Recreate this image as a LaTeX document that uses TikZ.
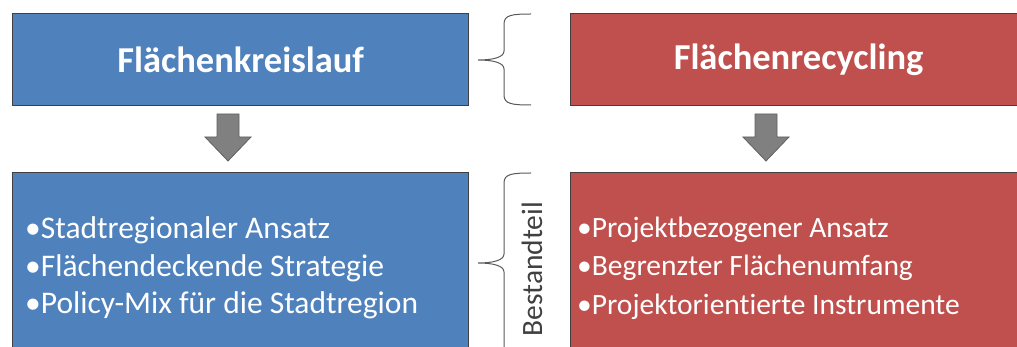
\documentclass[tikz,border=0pt]{standalone}
\usepackage{fontspec}
\setmainfont[Ligatures=NoCommon]{Carlito}
\definecolor{kblue}{HTML}{4F81BD}
\definecolor{kred}{HTML}{C0504D}
\definecolor{kedge}{HTML}{404040}
\definecolor{karrow}{HTML}{808080}
\definecolor{karrowedge}{HTML}{606060}
\definecolor{kbrace}{HTML}{595959}
\tikzset{
  box/.style={draw=kedge, line width=1.2pt, minimum width=456pt, anchor=north west, inner sep=0pt},
  titletext/.style={text=white, font=\fontsize{36.5}{40}\selectfont\bfseries},
  listtext/.style={text=white, align=left, anchor=west, inner sep=0pt},
  bigarrow/.style={fill=karrow, draw=karrowedge, line width=0.8pt},
  bracestyle/.style={draw=kbrace, line width=1pt},
}
\begin{document}
\begin{tikzpicture}[x=1pt,y=-1pt]
\useasboundingbox (0,0) rectangle (1017,347);
\clip (0,0) rectangle (1017,347);
% top boxes
\node[box, fill=kblue, minimum height=92pt, titletext] (tl) at (12,13) {Flächenkreislauf};
\node[box, fill=kred, minimum height=92pt, titletext] (tr) at (570,13) {Flächenrecycling};
% bottom boxes
\node[box, fill=kblue, minimum height=190pt] (bl) at (12,172) {};
\node[box, fill=kred, minimum height=190pt] (br) at (570,172) {};
\node[listtext, font=\fontsize{31.5}{37.5}\selectfont] (bltxt) at (25,268) {•Stadtregionaler Ansatz\\•Flächendeckende Strategie\\•Policy-Mix für die Stadtregion};
\node[listtext, font=\fontsize{29.5}{38.5}\selectfont] (brtxt) at (577,268) {•Projektbezogener Ansatz\\•Begrenzter Flächenumfang\\•Projektorientierte Instrumente};
% arrows
\draw[bigarrow] (217,114) -- (239,114) -- (239,137) -- (251,137) -- (228,161) -- (205,137) -- (217,137) -- cycle;
\draw[bigarrow] (755,114) -- (777,114) -- (777,137) -- (789,137) -- (766,161) -- (743,137) -- (755,137) -- cycle;
% top brace
\draw[bracestyle] (531,14) .. controls (512,14) and (504,15) .. (504,24) -- (504,51)
  .. controls (504,57) and (494,60) .. (478,60)
  .. controls (494,60) and (504,63) .. (504,69) -- (504,95)
  .. controls (504,104) and (512,105) .. (531,105);
% bottom brace
\draw[bracestyle] (531,173) .. controls (512,173) and (504,174) .. (504,183) -- (504,254)
  .. controls (504,260) and (494,263) .. (478,263)
  .. controls (494,263) and (504,266) .. (504,272) -- (504,350);
\node[rotate=90, text=kedge, font=\fontsize{29.5}{32}\selectfont, inner sep=0pt] (bt) at (532,269) {Bestandteil};
\end{tikzpicture}
\end{document}
